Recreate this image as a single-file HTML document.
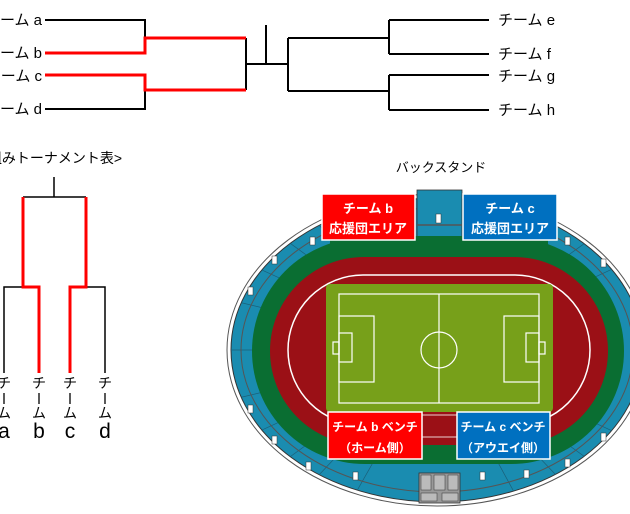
<!DOCTYPE html>
<html><head><meta charset="utf-8"><style>
html,body{margin:0;padding:0;background:#fff;}
svg{display:block;}
text{font-family:"Liberation Sans","Noto Sans CJK JP",sans-serif;}
</style></head><body>
<svg width="630" height="514" viewBox="0 0 630 514" xmlns="http://www.w3.org/2000/svg">
<defs><clipPath id="c"><ellipse cx="437" cy="350" rx="206" ry="152"/></clipPath></defs>
<g fill="none" stroke="#000" stroke-width="2">
<path d="M45 20H145V38"/>
<path d="M45 109H145V90"/>
<path d="M246 38V90M246 64H288M266 25V64"/>
<path d="M288 38V91M288 38H389M288 91H389"/>
<path d="M389 20V54M389 75V110M389 20H489M389 54H489M389 75H489M389 110H489"/>
</g>
<g fill="none" stroke="#f00" stroke-width="3">
<path d="M45 53H145V38H246"/>
<path d="M45 75H145V90H246"/>
</g>
<g font-size="15" fill="#000">
<text x="42" y="25" text-anchor="end">チーム a</text>
<text x="42" y="58" text-anchor="end">チーム b</text>
<text x="42" y="81" text-anchor="end">チーム c</text>
<text x="42" y="114" text-anchor="end">チーム d</text>
<text x="498" y="25">チーム e</text>
<text x="498" y="59">チーム f</text>
<text x="498" y="81">チーム g</text>
<text x="498" y="115">チーム h</text>
</g>
<text x="122" y="163" text-anchor="end" font-size="14">&lt;組みトーナメント表&gt;</text>
<g fill="none" stroke="#000" stroke-width="1.5">
<path d="M54 177V197M23 197H86"/>
<path d="M4 373V287H23M105 373V287H86"/>
</g>
<g fill="none" stroke="#f00" stroke-width="3">
<path d="M23 197V287H39V373"/>
<path d="M86 197V287H70V373"/>
</g>
<g font-size="14" fill="#000" text-anchor="middle">
<text x="4" y="388">チ</text><text x="39" y="388">チ</text><text x="70" y="388">チ</text><text x="105" y="388">チ</text>
<text x="4" y="418">ム</text><text x="39" y="418">ム</text><text x="70" y="418">ム</text><text x="105" y="418">ム</text>
</g>
<g stroke="#000" stroke-width="1.3"><path d="M4 393V404M39 393V404M70 393V404M105 393V404"/></g>
<g font-size="21" fill="#000" text-anchor="middle">
<text x="4" y="438">a</text><text x="39" y="438">b</text><text x="70" y="438">c</text><text x="105" y="438">d</text>
</g>
<text x="441" y="172" text-anchor="middle" font-size="13">バックスタンド</text>
<ellipse cx="437" cy="350" rx="210" ry="156" fill="#fff" stroke="#555" stroke-width="1"/>
<ellipse cx="437" cy="350" rx="206" ry="152" fill="#1a8cb0" stroke="#333" stroke-width="1"/>
<g stroke="#1b5f78" stroke-width="0.7" clip-path="url(#c)">
<path d="M437 350L300 205M437 350L265 225M437 350L240 260M437 350L230 300M437 350L228 350M437 350L230 400M437 350L240 440M437 350L265 475M437 350L300 495M437 350L350 503M437 350L520 503M437 350L575 495M437 350L610 475M437 350L632 440M437 350L632 260M437 350L610 225M437 350L575 205"/>
</g>
<ellipse cx="437" cy="350" rx="196" ry="142" fill="none" stroke="#555" stroke-width="1"/>
<rect x="417" y="190" width="45" height="52" fill="#1a8cb0" stroke="#333" stroke-width="0.8"/>
<line x1="417" y1="225" x2="462" y2="225" stroke="#555" stroke-width="1.5"/>
<rect x="436" y="214" width="5" height="9" fill="#fff" stroke="#333" stroke-width="0.5"/>
<rect x="252" y="238" width="372" height="226" rx="113" ry="113" fill="#0a6e32"/>
<rect x="330" y="236" width="218" height="10" fill="#0a6e32"/>
<rect x="270" y="257" width="338" height="188" rx="94" ry="94" fill="#9b1016"/>
<rect x="288" y="275" width="302" height="150" rx="75" ry="75" fill="none" stroke="#fff" stroke-width="1.5"/>
<rect x="326" y="284" width="227" height="128" rx="4" fill="#77a01a"/>
<g fill="none" stroke="#fff" stroke-width="1.2">
<rect x="339" y="294" width="200" height="109"/>
<line x1="439" y1="294" x2="439" y2="403"/>
<circle cx="439" cy="350" r="18"/>
<rect x="339" y="316" width="35" height="66"/>
<rect x="339" y="333" width="13" height="29"/>
<rect x="333" y="342" width="6" height="12"/>
<rect x="504" y="316" width="35" height="66"/>
<rect x="526" y="333" width="13" height="29"/>
<rect x="539" y="342" width="6" height="12"/>
</g>
<rect x="422" y="415" width="35" height="22" fill="#9b1016" stroke="#fff" stroke-width="0.8"/>
<g fill="#fff" stroke="#333" stroke-width="0.5">
<rect x="310" y="237" width="5" height="8"/><rect x="272" y="256" width="5" height="8"/><rect x="248" y="287" width="5" height="8"/>
<rect x="248" y="405" width="5" height="8"/><rect x="272" y="436" width="5" height="8"/><rect x="306" y="462" width="5" height="8"/>
<rect x="353" y="472" width="5" height="8"/><rect x="480" y="472" width="5" height="8"/>
<rect x="565" y="237" width="5" height="8"/><rect x="601" y="259" width="5" height="8"/>
<rect x="601" y="433" width="5" height="8"/><rect x="565" y="459" width="5" height="8"/><rect x="524" y="470" width="5" height="8"/>
</g>
<rect x="419" y="473" width="41" height="30" fill="#999" stroke="#333" stroke-width="0.8"/>
<g fill="#bbb" stroke="#333" stroke-width="0.5">
<rect x="421" y="475" width="10" height="15"/><rect x="434" y="475" width="11" height="15"/><rect x="448" y="475" width="10" height="15"/>
<rect x="421" y="493" width="16" height="8"/><rect x="442" y="493" width="16" height="8"/>
</g>
<g font-size="13" font-weight="bold" fill="#fff" text-anchor="middle">
<rect x="322" y="194" width="93" height="46" fill="#f00" stroke="#fff" stroke-width="1.5"/>
<text x="368" y="213">チーム b</text><text x="368" y="233">応援団エリア</text>
<rect x="463" y="194" width="94" height="46" fill="#0070c0" stroke="#fff" stroke-width="1.5"/>
<text x="510" y="213">チーム c</text><text x="510" y="233">応援団エリア</text>
<rect x="328" y="412" width="94" height="47" fill="#f00" stroke="#fff" stroke-width="1.5"/>
<text x="375" y="431" font-size="12">チーム b ベンチ</text><text x="375" y="452" font-size="12">（ホーム側）</text>
<rect x="457" y="412" width="93" height="47" fill="#0070c0" stroke="#fff" stroke-width="1.5"/>
<text x="503" y="431" font-size="12">チーム c ベンチ</text><text x="503" y="452" font-size="12">（アウエイ側）</text>
</g>
</svg>
</body></html>
